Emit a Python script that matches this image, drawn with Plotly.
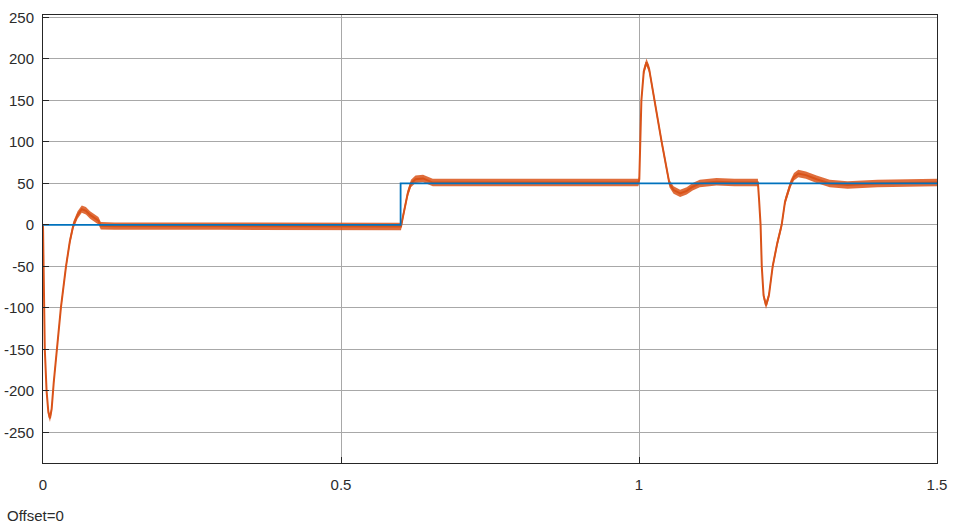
import plotly.graph_objects as go

# reference step (blue)
ref_t = [0, 0.6, 1.5]
ref_v = [0, 50, 50]

resp_t = [0, 0.0015, 0.003, 0.006, 0.009, 0.0117, 0.0145, 0.018, 0.023, 0.030,
          0.0386, 0.045, 0.051, 0.058, 0.065, 0.072, 0.079, 0.086, 0.093, 0.097,
          0.12, 0.3, 0.5, 0.5995,
          0.6007, 0.604, 0.6074, 0.612, 0.6174, 0.625, 0.6376, 0.646, 0.654,
          0.7, 0.85, 0.999,
          1.0005, 1.002, 1.004, 1.008, 1.0125, 1.017, 1.022, 1.0268, 1.032, 1.038,
          1.044, 1.051, 1.058, 1.069, 1.08, 1.09, 1.102, 1.13, 1.16, 1.1995,
          1.2015, 1.204, 1.206, 1.209, 1.2131, 1.218, 1.2243, 1.232, 1.2394, 1.245,
          1.2545, 1.26, 1.2673, 1.28, 1.298, 1.32, 1.35, 1.4, 1.5]
resp_v = [0, -80, -150, -200, -226, -233, -222, -190, -150, -100,
          -50, -20, 0, 12, 19, 17, 12, 9, 5, -1,
          -1.5, -1.5, -1.5, -1.5,
          -2, 10, 22, 38, 50, 55, 56, 53, 51,
          51, 51, 51,
          55, 100, 150, 185, 196, 188, 168, 150, 125, 100,
          75, 50, 42, 38, 41, 46, 50, 52, 51, 51,
          30, 0, -50, -85, -97, -85, -50, -22, 0, 28,
          50, 58, 62, 60, 55, 50, 48, 50, 51]

y_ticks = [-250, -200, -150, -100, -50, 0, 50, 100, 150, 200, 250]
y_labels = ['-250', '-200', '-150', '-100', '-50', '0', '50', '100', '150', '200', '250']
x_ticks = [0, 0.5, 1, 1.5]
x_labels = ['0', '0.5', '1', '1.5']

ORANGE = '#D95319'
BLUE = '#0072BD'
noise = 4.5  # half width of the sensor noise band

fig = go.Figure()

# noise band around the response
fig.add_trace(go.Scatter(x=resp_t, y=[v - noise for v in resp_v], mode='lines',
                         line=dict(width=0, color=ORANGE), hoverinfo='skip',
                         showlegend=False))
fig.add_trace(go.Scatter(x=resp_t, y=[v + noise for v in resp_v], mode='lines',
                         line=dict(width=0, color=ORANGE), fill='tonexty',
                         fillcolor='rgba(217,83,25,0.85)', hoverinfo='skip',
                         showlegend=False))
fig.add_trace(go.Scatter(x=resp_t, y=resp_v, mode='lines',
                         line=dict(width=2, color=ORANGE), showlegend=False))
fig.add_trace(go.Scatter(x=ref_t, y=ref_v, mode='lines', line_shape='hv',
                         line=dict(width=1.8, color=BLUE), showlegend=False))

axis_font = dict(family='Liberation Sans, Arial, sans-serif', size=15, color='#2b2b2b')

fig.update_layout(
    width=959, height=528,
    margin=dict(l=43, r=22, t=15, b=65, autoexpand=False),
    paper_bgcolor='white', plot_bgcolor='white',
    xaxis=dict(range=[0, 1.5], tickvals=x_ticks, ticktext=x_labels,
               showgrid=True, gridcolor='#a8a8a8', gridwidth=1, zeroline=False,
               showline=True, linecolor='#262626', linewidth=1, mirror=True,
               ticks='inside', ticklen=6, tickcolor='#262626', automargin=False,
               ticklabelstandoff=8, tickfont=axis_font),
    yaxis=dict(range=[-287, 253], tickvals=y_ticks, ticktext=y_labels,
               showgrid=True, gridcolor='#a8a8a8', gridwidth=1, zeroline=False,
               showline=True, linecolor='#262626', linewidth=1, mirror=True,
               ticks='inside', ticklen=6, tickcolor='#262626', automargin=False,
               ticklabelstandoff=5, tickfont=axis_font),
    annotations=[dict(text='Offset=0', xref='paper', yref='paper',
                      x=-38 / 894, y=-52 / 448, xanchor='left', yanchor='middle',
                      showarrow=False, font=axis_font)],
)

# drop the default 8px page margin so the figure sits at the window corner
fig.write_html("out.html", config={'displayModeBar': False},
               post_script="document.body.style.margin = '0';")
